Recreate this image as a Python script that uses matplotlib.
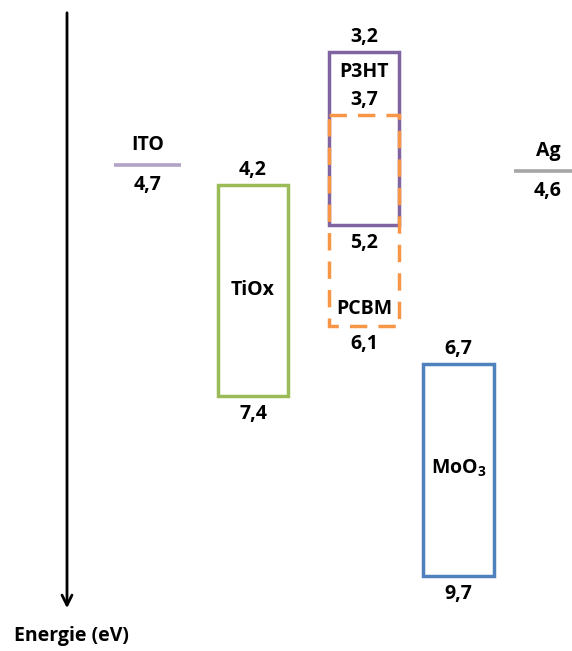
import matplotlib.pyplot as plt
from matplotlib.patches import Rectangle

# energy values (eV) as printed on the diagram
metals = ["ITO", "Ag"]
work_function = [4.7, 4.6]
metal_colors = ["#b3a2c7", "#a6a6a6"]

layers = ["TiOx", "P3HT", "PCBM", "MoO$_3$"]
lumo = [4.2, 3.2, 3.7, 6.7]
homo = [7.4, 5.2, 6.1, 9.7]
layer_colors = ["#9bbb59", "#8064a2", "#f79646", "#4f81bd"]
layer_dashed = [False, False, True, False]

# schematic layout (the original is not drawn to scale), in pixel units
metal_x = [(114, 181), (514, 572)]
metal_y = [165, 171]
layer_x = [(218, 288), (329, 399), (329, 399), (423, 494)]
layer_y = [(185, 396), (52, 225), (115, 326), (364, 576)]
name_y = [290, 72, 309, 468]

def fmt(v):
    return f"{v:.1f}".replace(".", ",")

plt.rcParams['font.family'] = ['Open Sans', 'DejaVu Sans']
plt.rcParams['mathtext.fontset'] = 'custom'
plt.rcParams['mathtext.rm'] = 'Open Sans:bold'
plt.rcParams['mathtext.default'] = 'rm'
fs = 14

fig = plt.figure(figsize=(5.72, 6.51), dpi=100)
ax = fig.add_axes([0, 0, 1, 1])
ax.set_xlim(0, 572)
ax.set_ylim(651, 0)
ax.axis("off")

# energy arrow
ax.annotate("", xy=(67, 611), xytext=(67, 10),
            arrowprops=dict(arrowstyle="->", color="black", lw=2, mutation_scale=18))
ax.text(71, 636, "Energie (eV)", ha="center", va="center", fontsize=fs, fontweight="bold")

# metal contacts
for name, wf, c, (x0, x1), y in zip(metals, work_function, metal_colors, metal_x, metal_y):
    ax.plot([x0, x1], [y, y], color=c, lw=2.6, solid_capstyle="butt")
    xc = (x0 + x1) / 2 if name == "ITO" else 548
    ax.text(xc, y - 20, name, ha="center", va="center", fontsize=fs, fontweight="bold")
    ax.text(xc, y + 20, fmt(wf), ha="center", va="center", fontsize=fs, fontweight="bold")

# layer boxes
for name, lu, ho, c, dash, (x0, x1), (y0, y1), ny in zip(layers, lumo, homo, layer_colors,
                                                         layer_dashed, layer_x, layer_y, name_y):
    rect = Rectangle((x0, y0), x1 - x0, y1 - y0, fill=False, edgecolor=c, lw=2.5,
                     linestyle=(0, (5, 3.2)) if dash else "-", zorder=3 if dash else 2)
    ax.add_patch(rect)
    xc = (x0 + x1) / 2
    ax.text(xc, y0 - 15, fmt(lu), ha="center", va="center", fontsize=fs, fontweight="bold",
            zorder=4)
    ax.text(xc, y1 + 18, fmt(ho), ha="center", va="center", fontsize=fs, fontweight="bold",
            zorder=4)
    ax.text(xc, ny, name, ha="center", va="center", fontsize=fs, fontweight="bold", zorder=4)

fig.savefig("out.png", dpi=100)
